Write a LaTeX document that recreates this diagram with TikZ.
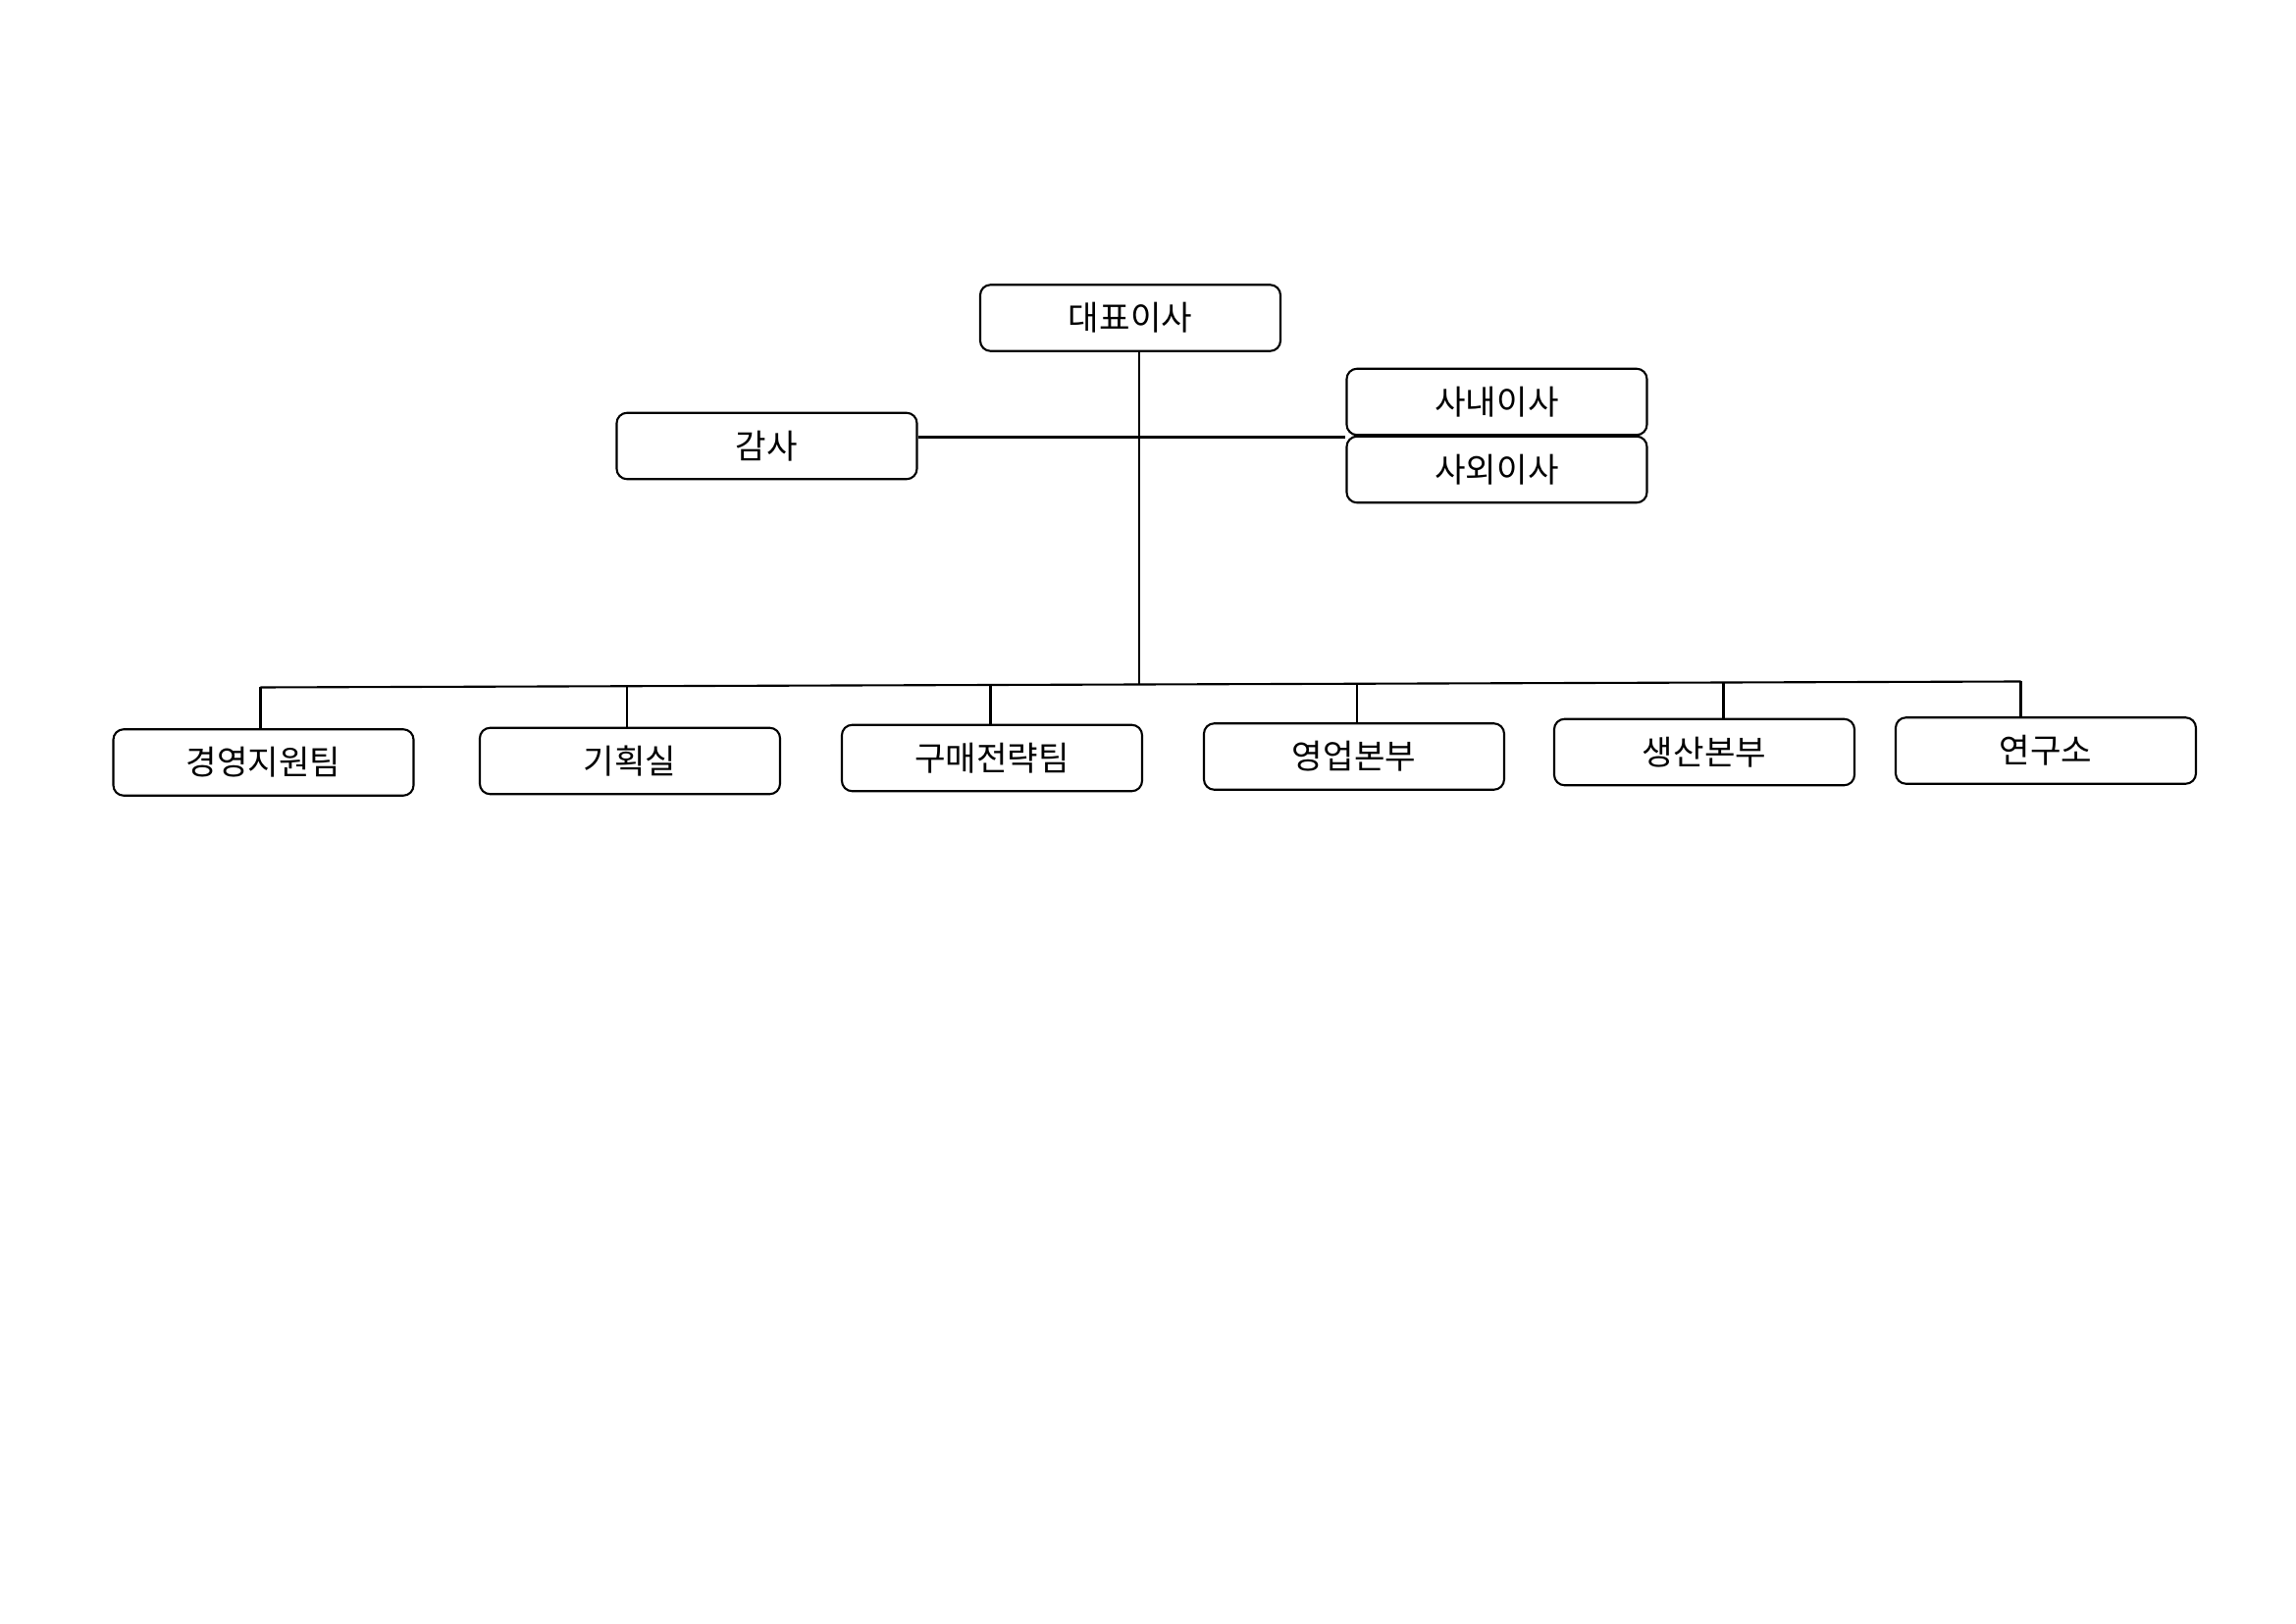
\documentclass[tikz,border=0pt]{standalone}
\usepackage{fontspec}
\newfontfamily\kor{Noto Sans CJK KR}
\usetikzlibrary{positioning}
\begin{document}
\begin{tikzpicture}[x=0.2mm,y=-0.2mm,
	orgbox/.style={draw,thick,rounded corners=4pt,minimum width=40.8mm,minimum height=9mm,
	  inner sep=0pt,font=\kor\fontsize{13}{15}\selectfont},
	link/.style={draw,thick}]
	\useasboundingbox (0,0) rectangle (1560,1103);
	%top
	\node[orgbox] (ceo) at (768,216) {대표이사};
	\node[orgbox] (audit) at (521,303) {감사};
	\node[orgbox] (inner) at (1017,273) {사내이사};
	\node[orgbox] (outer) at (1017,319) {사외이사};
	%departments
	\node[orgbox] (d1) at (179,518) {경영지원팀};
	\node[orgbox] (d2) at (428,517) {기획실};
	\node[orgbox] (d3) at (674,515) {구매전략팀};
	\node[orgbox] (d4) at (920,514) {영업본부};
	\node[orgbox] (d5) at (1158,511) {생산본부};
	\node[orgbox] (d6) at (1390,510) {연구소};
	%lines
	\coordinate (trunk) at (774,465);
	\coordinate (mid) at (774,297);
	\coordinate (b1) at (177,467);
	\coordinate (b6) at (1373,463);
	\draw[link] (ceo.south -| trunk) -- (trunk);
	\draw[link] (audit.east |- mid) -- (mid) -- (inner.south west |- mid);
	\draw[link] (b1) -- (b6);
	\draw[link] (b1) -- (d1.north -| b1);
	\draw[link] (426,466) -- (d2.north -| 426,0);
	\draw[link] (673,466) -- (d3.north -| 673,0);
	\draw[link] (922,465) -- (d4.north -| 922,0);
	\draw[link] (1171,464) -- (d5.north -| 1171,0);
	\draw[link] (b6) -- (d6.north -| b6);
\end{tikzpicture}
\end{document}
